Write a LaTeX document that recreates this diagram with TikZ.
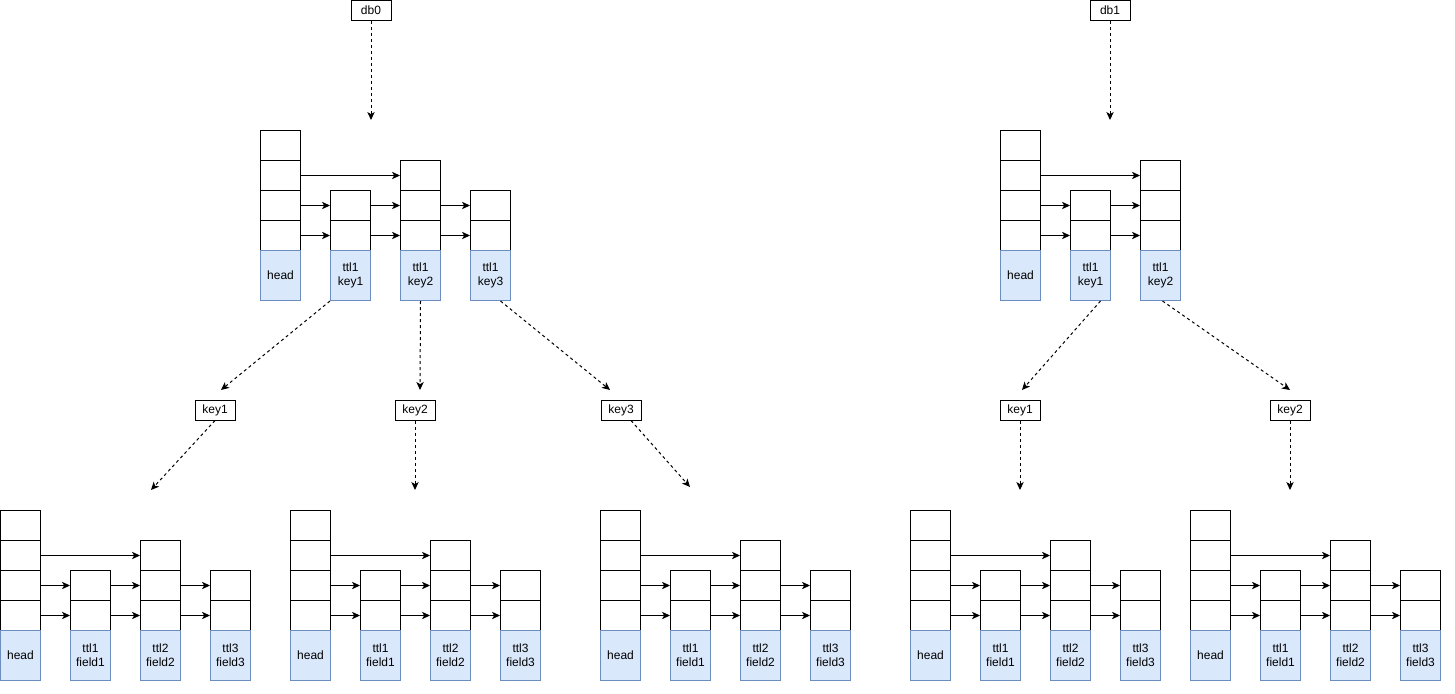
\documentclass[tikz,border=0pt]{standalone}
\usepackage{fontspec}
\setmainfont{Liberation Sans}
\usetikzlibrary{arrows.meta,calc}
\definecolor{bluefill}{HTML}{DAE8FC}
\definecolor{bluestroke}{HTML}{6C8EBF}
\tikzset{
 cell/.style={draw=black,fill=white,line width=0.75pt,minimum width=30pt,minimum height=22.5pt,inner sep=0pt,anchor=north west},
 bluebox/.style={draw=bluestroke,fill=bluefill,line width=0.75pt,minimum width=30pt,minimum height=37.5pt,inner sep=0pt,anchor=north west,align=center,font=\fontsize{9}{10.5}\selectfont},
 lbl/.style={draw=black,fill=white,line width=0.75pt,minimum width=30pt,minimum height=15pt,inner sep=0pt,font=\fontsize{9}{10.5}\selectfont},
 link/.style={line width=0.75pt,-{Stealth[length=6pt,width=5.5pt,inset=1.6pt]}},
 dlink/.style={link,dash pattern=on 2.25pt off 2.25pt},
}
\newcommand\skipbase[5]{%
 \node[cell] (#1h1) at (#2,#3) {};
 \node[cell] (#1h2) at (#2,#3+30) {};
 \node[cell] (#1h3) at (#2,#3+60) {};
 \node[cell] (#1h4) at (#2,#3+90) {};
 \node[bluebox] (#1hb) at (#2,#3+120) {head};
 \node[cell] (#1a1) at (#2+70,#3+60) {};
 \node[cell] (#1a2) at (#2+70,#3+90) {};
 \node[bluebox] (#1ab) at (#2+70,#3+120) {#4};
 \node[cell] (#1b1) at (#2+140,#3+30) {};
 \node[cell] (#1b2) at (#2+140,#3+60) {};
 \node[cell] (#1b3) at (#2+140,#3+90) {};
 \node[bluebox] (#1bb) at (#2+140,#3+120) {#5};
 \draw[link] (#1h2.east) -- (#1b1.west);
 \draw[link] (#1h3.east) -- (#1a1.west);
 \draw[link] (#1h4.east) -- (#1a2.west);
 \draw[link] (#1a1.east) -- (#1b2.west);
 \draw[link] (#1a2.east) -- (#1b3.west);
}
\newcommand\skipthird[4]{%
 \node[cell] (#1c1) at (#2+210,#3+60) {};
 \node[cell] (#1c2) at (#2+210,#3+90) {};
 \node[bluebox] (#1cb) at (#2+210,#3+120) {#4};
 \draw[link] (#1b2.east) -- (#1c1.west);
 \draw[link] (#1b3.east) -- (#1c2.west);
}
\begin{document}
\begin{tikzpicture}[x=0.75pt,y=-0.75pt]
\useasboundingbox (0,0) rectangle (1455,693);
% top level skip lists
\skipbase{A}{260}{130}{ttl1\\key1}{ttl1\\key2}
\skipthird{A}{260}{130}{ttl1\\key3}
\skipbase{B}{1000}{130}{ttl1\\key1}{ttl1\\key2}
% bottom skip lists
\skipbase{C}{0}{510}{ttl1\\field1}{ttl2\\field2}
\skipthird{C}{0}{510}{ttl3\\field3}
\skipbase{D}{290}{510}{ttl1\\field1}{ttl2\\field2}
\skipthird{D}{290}{510}{ttl3\\field3}
\skipbase{E}{600}{510}{ttl1\\field1}{ttl2\\field2}
\skipthird{E}{600}{510}{ttl3\\field3}
\skipbase{F}{910}{510}{ttl1\\field1}{ttl2\\field2}
\skipthird{F}{910}{510}{ttl3\\field3}
\skipbase{G}{1190}{510}{ttl1\\field1}{ttl2\\field2}
\skipthird{G}{1190}{510}{ttl3\\field3}
% labels
\node[lbl] (db0) at (371,10) {db0};
\node[lbl] (db1) at (1110,10) {db1};
\node[lbl] (k01) at (215,410) {key1};
\node[lbl] (k02) at (415,410) {key2};
\node[lbl] (k03) at (621,410) {key3};
\node[lbl] (k11) at (1020,410) {key1};
\node[lbl] (k12) at (1290,410) {key2};
% free ends
\coordinate (t0) at (371,120);
\coordinate (t1) at (1110,120);
\coordinate (e01) at (221,390);
\coordinate (e02) at (420,390);
\coordinate (e03) at (610,390);
\coordinate (e11) at (1022,390);
\coordinate (e12) at (1290,390);
\coordinate (f01) at (151,490);
\coordinate (f02) at (415,490);
\coordinate (f03) at (690,487);
\coordinate (f11) at (1020,490);
\coordinate (f12) at (1290,490);
% dashed connectors
\draw[dlink] (db0) -- (t0);
\draw[dlink] (db1) -- (t1);
\draw[dlink] (Aab.south west) -- (e01);
\draw[dlink] (Abb.south) -- (e02);
\draw[dlink] ($(Acb.south)+(10,0)$) -- (e03);
\draw[dlink] ($(Bab.south)+(10,0)$) -- (e11);
\draw[dlink] ($(Bbb.south)+(2,0)$) -- (e12);
\draw[dlink] (k01.south) -- (f01);
\draw[dlink] (k02.south) -- (f02);
\draw[dlink] ($(k03.south)+(10,0)$) -- (f03);
\draw[dlink] (k11.south) -- (f11);
\draw[dlink] (k12.south) -- (f12);
\end{tikzpicture}
\end{document}
